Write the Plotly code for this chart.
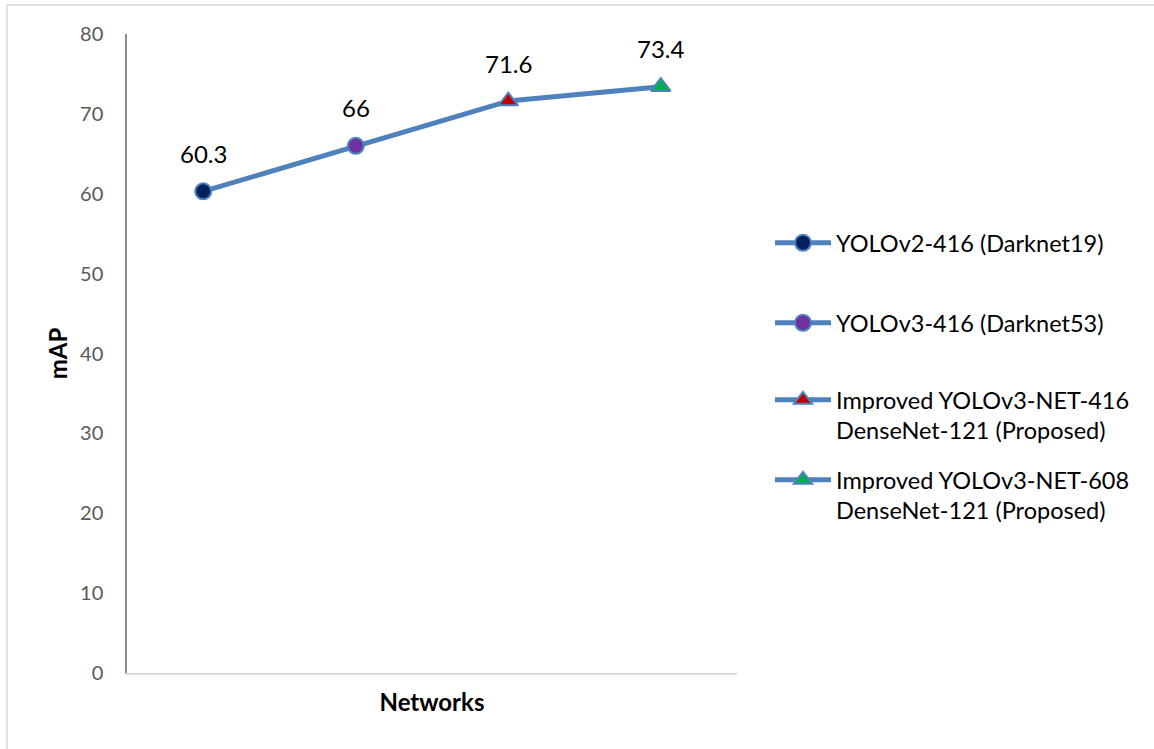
import plotly.graph_objects as go

# mAP of each network
networks = [
    "YOLOv2-416 (Darknet19)",
    "YOLOv3-416 (Darknet53)",
    "Improved YOLOv3-NET-416<br>DenseNet-121 (Proposed)",
    "Improved YOLOv3-NET-608<br>DenseNet-121 (Proposed)",
]
map_values = [60.3, 66, 71.6, 73.4]
y_ticks = [0, 10, 20, 30, 40, 50, 60, 70, 80]

marker_symbols = ["circle", "circle", "triangle-up", "triangle-up"]
marker_fills = ["#002060", "#7030a0", "#c00000", "#00b050"]
marker_sizes = [16, 16, 17, 17]

LINE_BLUE = "#4f81bd"
FONT = "Lato, 'Open Sans', sans-serif"

W, H = 1154, 749
L, R, T, B = 127, 417, 34, 76
plot_w = W - L - R
plot_h = H - T - B


def px_x(x):
    return (x - L) / plot_w


def px_y(y):
    return (H - B - y) / plot_h


cats = [str(i) for i in range(len(networks))]

fig = go.Figure()

# connecting line across all networks
fig.add_trace(go.Scatter(
    x=cats, y=map_values, mode="lines",
    line=dict(color=LINE_BLUE, width=5),
    showlegend=False, hoverinfo="skip",
))

legend_ids = ["legend", "legend2", "legend3", "legend4"]
for i, name in enumerate(networks):
    fig.add_trace(go.Scatter(
        x=[cats[i]], y=[map_values[i]], mode="lines+markers",
        name=name,
        line=dict(color=LINE_BLUE, width=5),
        marker=dict(symbol=marker_symbols[i], size=marker_sizes[i],
                    color=marker_fills[i],
                    line=dict(color=LINE_BLUE, width=2)),
        legend=legend_ids[i],
    ))
    fig.add_annotation(
        x=cats[i], y=map_values[i], text=str(map_values[i]),
        showarrow=False, yshift=38, xref="x", yref="y",
        font=dict(family=FONT, size=24, color="#000000"),
    )

# first-line centre of each legend entry, in pixels from the top
legend_rows = [243, 323, 400, 480]
legend_common = dict(
    font=dict(family=FONT, size=23.5, color="#000000"),
    bgcolor="rgba(0,0,0,0)", itemwidth=56, valign="top",
    xanchor="left", yanchor="top", tracegroupgap=0,
    itemclick=False, itemdoubleclick=False,
)
legends = {}
for lid, row in zip(legend_ids, legend_rows):
    legends[lid] = dict(x=px_x(770), y=px_y(row - 22), **legend_common)

fig.update_layout(
    width=W, height=H,
    margin=dict(l=L, r=R, t=T, b=B),
    paper_bgcolor="#ffffff", plot_bgcolor="#ffffff",
    font=dict(family=FONT, size=20, color="#595959"),
    xaxis=dict(
        type="category", range=[-0.5, len(networks) - 0.5],
        showticklabels=False, showgrid=False, zeroline=False,
        showline=True, linecolor="#d9d9d9", linewidth=1.5,
        title=dict(text="<b>Networks</b>", standoff=20,
                   font=dict(family=FONT, size=24, color="#000000")),
        fixedrange=True,
    ),
    yaxis=dict(
        range=[0, 80], tickvals=y_ticks, showgrid=False, zeroline=False,
        showline=True, linecolor="#8c8c8c", linewidth=1.5,
        ticks="", ticklabelstandoff=18,
        tickfont=dict(family=FONT, size=20, color="#595959"),
        title=dict(text="<b>mAP</b>", standoff=6,
                   font=dict(family=FONT, size=24, color="#000000")),
        fixedrange=True,
    ),
    showlegend=True,
    **legends,
    shapes=[dict(
        type="rect", xref="paper", yref="paper",
        x0=px_x(7), x1=px_x(W + 20), y0=px_y(H + 20), y1=px_y(5),
        line=dict(color="#d9d9d9", width=1.5), fillcolor="rgba(0,0,0,0)",
        layer="below",
    )],
)

fig.write_html("out.html")
